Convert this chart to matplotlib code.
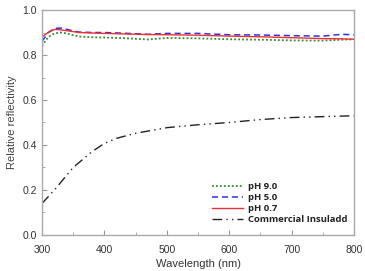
import numpy as np
import matplotlib
matplotlib.use("Agg")
from matplotlib import pyplot as plt
from matplotlib.ticker import MultipleLocator

# wavelength grid (nm)
wl = [300, 310, 320, 330, 340, 350, 360, 380, 400, 430, 470, 500, 550, 600, 650, 700, 750, 780, 800]

ph90 = [0.84, 0.88, 0.896, 0.900, 0.896, 0.888, 0.882, 0.879, 0.878, 0.875, 0.869, 0.876, 0.874, 0.870, 0.868, 0.865, 0.864, 0.868, 0.870]
ph50 = [0.86, 0.90, 0.918, 0.920, 0.914, 0.907, 0.902, 0.900, 0.900, 0.897, 0.892, 0.896, 0.896, 0.890, 0.889, 0.886, 0.884, 0.892, 0.890]
ph07 = [0.88, 0.90, 0.914, 0.912, 0.908, 0.904, 0.900, 0.898, 0.896, 0.894, 0.891, 0.890, 0.888, 0.884, 0.881, 0.877, 0.873, 0.872, 0.870]

wl_com = [300, 320, 350, 380, 400, 420, 450, 500, 550, 600, 650, 700, 750, 800]
commercial = [0.14, 0.20, 0.30, 0.37, 0.407, 0.43, 0.452, 0.477, 0.49, 0.50, 0.513, 0.522, 0.526, 0.53]

labels = ["pH 9.0", "pH 5.0", "pH 0.7", "Commercial Insuladd"]

plt.rcParams["font.family"] = ["Liberation Sans", "DejaVu Sans"]

fig = plt.figure(figsize=(3.65, 2.71), dpi=100)
ax = fig.add_axes([0.115, 0.133, 0.855, 0.830])

ax.plot(wl, ph90, color="#2e8b2e", ls=(0, (1, 1.2)), lw=1.3, label=labels[0])
ax.plot(wl, ph50, color="#3030e0", ls=(0, (4, 2.5)), lw=1.1, label=labels[1])
ax.plot(wl, ph07, color="#ee3030", ls="-", lw=1.0, label=labels[2])
ax.plot(wl_com, commercial, color="#222222", ls=(0, (7, 3, 1, 3, 1, 3)), lw=1.0, label=labels[3])

ax.set_xlim(300, 800)
ax.set_ylim(0.0, 1.0)
ax.xaxis.set_major_locator(MultipleLocator(100))
ax.xaxis.set_minor_locator(MultipleLocator(50))
ax.yaxis.set_major_locator(MultipleLocator(0.2))
ax.yaxis.set_minor_locator(MultipleLocator(0.1))
ax.yaxis.set_major_formatter(matplotlib.ticker.FormatStrFormatter("%.1f"))

ax.tick_params(which="both", direction="in", color="#999999", labelsize=7.5, labelcolor="#333333")
ax.tick_params(which="major", length=3.5, width=0.8)
ax.tick_params(which="minor", length=2, width=0.6)
ax.tick_params(axis="x", pad=7)
for s in ax.spines.values():
    s.set_color("#aaaaaa")
    s.set_linewidth(1.0)

ax.set_xlabel("Wavelength (nm)", fontsize=8, color="#333333", labelpad=3)
ax.set_ylabel("Relative reflectivity", fontsize=8, color="#444444", labelpad=4)

leg = ax.legend(loc="lower right", bbox_to_anchor=(1.0, 0.02), frameon=False,
                prop={"family": ["Open Sans", "DejaVu Sans"], "weight": "bold", "size": 6.8},
                handlelength=3.3, handletextpad=0.5, labelspacing=0.2, borderaxespad=0.3)
for t in leg.get_texts():
    t.set_color("#222222")

fig.savefig("out.png", dpi=100)
